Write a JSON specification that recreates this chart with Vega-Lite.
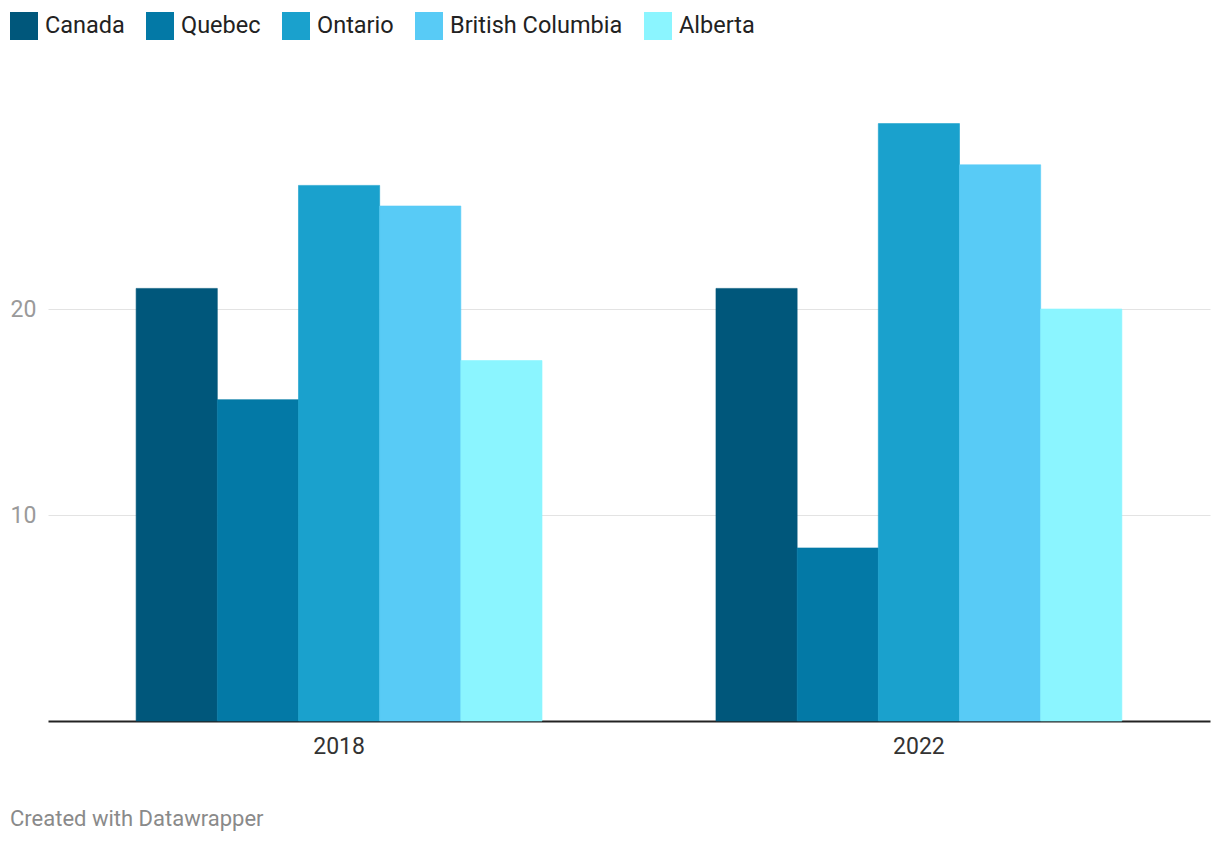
{
  "$schema": "https://vega.github.io/schema/vega-lite/v6.json",
  "autosize": "none",
  "width": 1162,
  "height": 618,
  "padding": {"left": 48, "top": 103, "right": 10, "bottom": 123},
  "background": "white",
  "config": {
    "font": "Roboto",
    "view": {"stroke": null}
  },
  "title": {
    "text": "Created with Datawrapper",
    "orient": "bottom",
    "anchor": "start",
    "frame": "group",
    "dx": -38,
    "offset": 51,
    "fontSize": 22,
    "fontWeight": "normal",
    "color": "#8a8a8a",
    "font": "Roboto"
  },
  "data": {
    "values": [
      {"year": "2018", "region": "Canada", "value": 21.0},
      {"year": "2018", "region": "Quebec", "value": 15.6},
      {"year": "2018", "region": "Ontario", "value": 26.0},
      {"year": "2018", "region": "British Columbia", "value": 25.0},
      {"year": "2018", "region": "Alberta", "value": 17.5},
      {"year": "2022", "region": "Canada", "value": 21.0},
      {"year": "2022", "region": "Quebec", "value": 8.4},
      {"year": "2022", "region": "Ontario", "value": 29.0},
      {"year": "2022", "region": "British Columbia", "value": 27.0},
      {"year": "2022", "region": "Alberta", "value": 20.0}
    ]
  },
  "mark": {"type": "bar", "strokeWidth": 0.6},
  "encoding": {
    "x": {
      "field": "year",
      "type": "nominal",
      "scale": {"paddingInner": 0.3, "paddingOuter": 0.152},
      "axis": {
        "title": null,
        "labelAngle": 0,
        "labelFontSize": 23,
        "labelColor": "#333333",
        "labelPadding": 14,
        "ticks": false,
        "domainColor": "#222222",
        "domainWidth": 2,
        "grid": false
      }
    },
    "xOffset": {
      "field": "region",
      "type": "nominal",
      "sort": ["Canada", "Quebec", "Ontario", "British Columbia", "Alberta"],
      "scale": {"paddingInner": 0, "paddingOuter": 0}
    },
    "y": {
      "field": "value",
      "type": "quantitative",
      "scale": {"domain": [0, 30], "nice": false},
      "axis": {
        "title": null,
        "values": [10, 20],
        "domain": false,
        "ticks": false,
        "labelAlign": "left",
        "labelPadding": 38,
        "labelFontSize": 23,
        "labelColor": "#9a9a9a",
        "gridColor": "#e3e3e3",
        "gridWidth": 1
      }
    },
    "stroke": {
      "field": "region",
      "type": "nominal",
      "scale": {
        "domain": ["Canada", "Quebec", "Ontario", "British Columbia", "Alberta"],
        "range": ["#00577b", "#0379a6", "#1aa1cd", "#58cbf6", "#8bf5ff"]
      },
      "legend": null
    },
    "color": {
      "field": "region",
      "type": "nominal",
      "sort": ["Canada", "Quebec", "Ontario", "British Columbia", "Alberta"],
      "scale": {
        "domain": ["Canada", "Quebec", "Ontario", "British Columbia", "Alberta"],
        "range": ["#00577b", "#0379a6", "#1aa1cd", "#58cbf6", "#8bf5ff"]
      },
      "legend": {
        "title": null,
        "orient": "none",
        "legendX": -38,
        "legendY": -91,
        "direction": "horizontal",
        "symbolType": "square",
        "symbolSize": 784,
        "symbolStrokeWidth": 0,
        "symbolOpacity": 1,
        "labelFontSize": 23.5,
        "labelLimit": 400,
        "labelColor": "#222222",
        "labelOffset": 7,
        "columnPadding": 21
      }
    }
  }
}
